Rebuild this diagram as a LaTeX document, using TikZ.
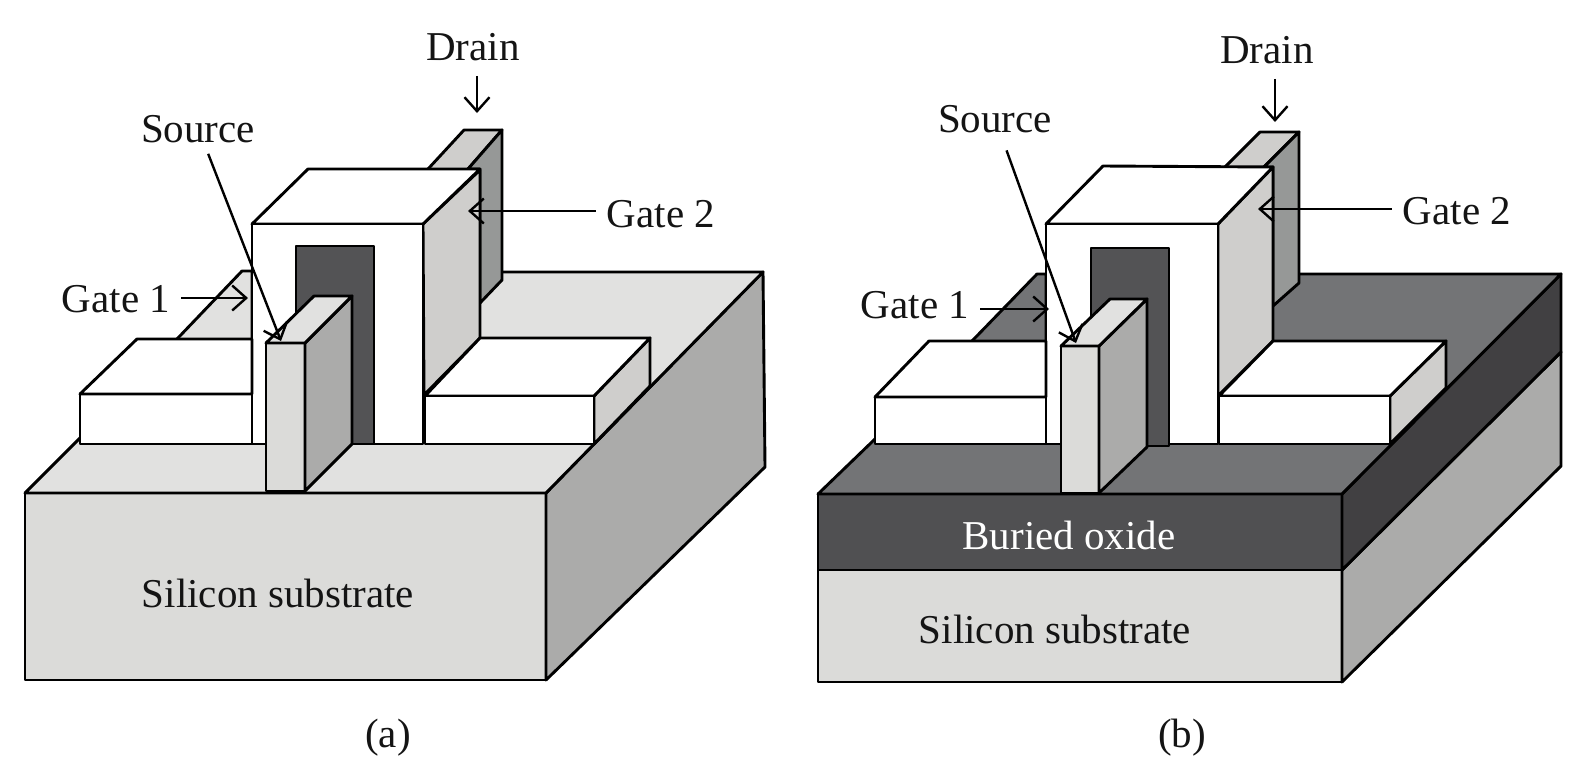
\documentclass[tikz,border=0pt]{standalone}
\usepackage{fontspec}
\setmainfont{Liberation Serif}
\usetikzlibrary{arrows.meta}
\definecolor{subfront}{HTML}{DBDBD9}
\definecolor{subside}{HTML}{ABABAA}
\definecolor{subtop}{HTML}{E1E1E0}
\definecolor{oxfront}{HTML}{505052}
\definecolor{oxside}{HTML}{414042}
\definecolor{oxtop}{HTML}{737476}
\definecolor{gateside}{HTML}{CFCECC}
\definecolor{drainside}{HTML}{969897}
\definecolor{channel}{HTML}{535355}
\tikzstyle{face} = [draw, line width=1.45pt, line join=round]
\tikzstyle{ptr} = [line width=1.2pt, -{Straight Barb[length=7pt,width=12.5pt]}]
\tikzstyle{txt} = [anchor=base, inner sep=5.5pt, text=black!92, font=\fontsize{20.5}{24}\selectfont]

\begin{document}
\begin{tikzpicture}[x=0.5pt, y=-0.5pt]
  \useasboundingbox (0,0) rectangle (1590,767);
  % Panel a: substrate
  \path [face, fill=subfront] (25,493) rectangle (546,680);
  \path [face, fill=subside] (546,493) -- (763,272) -- (765,467) -- (546,680) -- cycle;
  \fill [subtop] (25,493) -- (80,438) -- (80,400) -- (480,400) -- (480,272) -- (763,272) -- (546,493) -- cycle;
  \draw [face] (80,438) -- (25,493) -- (546,493) -- (763,272) -- (480,272);
  % Panel a: fin behind the gate
  \path [face, fill=subtop] (177,339) -- (242,271) -- (252,271) -- (252,339);
  \path [face, fill=gateside] (428,169) -- (464,130) -- (502,130) -- (468,169);
  \path [face, fill=drainside] (468,169) -- (502,130) -- (502,280) -- (480,303) -- (480,169) -- cycle;
  % Panel a: gate
  \path [face, fill=gateside] (423,224) -- (480,170) -- (480,338) -- (424,395) -- cycle;
  \path [face, fill=white] (252,224) -- (308,169) -- (480,169) -- (423,224) -- cycle;
  \path [face, fill=white] (252,224) rectangle (423,444);
  \path [face, fill=channel] (296,246) rectangle (374,444);
  % Panel a: pads
  \path [face, fill=white] (80,394) rectangle (252,444);
  \path [face, fill=white] (80,394) -- (137,339) -- (252,339) -- (252,394) -- cycle;
  \path [face, fill=gateside] (594,396) -- (650,338) -- (650,386) -- (594,444) -- cycle;
  \path [face, fill=white] (425,396) -- (480,338) -- (650,338) -- (594,396) -- cycle;
  \path [face, fill=white] (425,396) rectangle (594,444);
  % Panel a: source fin
  \path [face, fill=subfront] (266,343) rectangle (305,491);
  \path [face, fill=subside] (305,343) -- (352,296) -- (352,444) -- (305,491) -- cycle;
  \path [face, fill=subtop] (266,343) -- (314,296) -- (352,296) -- (305,343) -- cycle;

  % Panel b: substrate and oxide
  \path [face, fill=subfront] (818,570) rectangle (1342,682);
  \path [face, fill=subside] (1342,570) -- (1561,352) -- (1561,466) -- (1342,682) -- cycle;
  \path [face, fill=oxfront] (818,494) rectangle (1342,570);
  \path [face, fill=oxside] (1342,494) -- (1561,274) -- (1561,352) -- (1342,570) -- cycle;
  \fill [oxtop] (818,494) -- (875,439) -- (875,400) -- (1273,400) -- (1273,274) -- (1561,274) -- (1342,494) -- cycle;
  \draw [face] (875,439) -- (818,494) -- (1342,494) -- (1561,274) -- (1273,274);
  % Panel b: fin behind the gate
  \path [face, fill=oxtop] (972,341) -- (1037,274) -- (1046,274) -- (1046,341);
  \path [face, fill=gateside] (1225,167) -- (1260,132) -- (1299,132) -- (1264,167);
  \path [face, fill=drainside] (1264,167) -- (1299,132) -- (1299,283) -- (1273,306) -- (1273,167) -- cycle;
  % Panel b: gate
  \path [face, fill=gateside] (1218,224) -- (1273,167) -- (1273,341) -- (1218,396) -- cycle;
  \path [face, fill=white] (1046,224) -- (1103,166) -- (1273,167) -- (1218,224) -- cycle;
  \path [face, fill=white] (1046,224) rectangle (1218,444);
  \path [face, fill=channel] (1091,248) rectangle (1169,446);
  % Panel b: pads
  \path [face, fill=white] (875,397) rectangle (1046,444);
  \path [face, fill=white] (875,397) -- (929,341) -- (1046,341) -- (1046,397) -- cycle;
  \path [face, fill=gateside] (1390,396) -- (1446,341) -- (1446,388) -- (1390,444) -- cycle;
  \path [face, fill=white] (1219,396) -- (1273,341) -- (1446,341) -- (1390,396) -- cycle;
  \path [face, fill=white] (1219,396) rectangle (1390,444);
  % Panel b: source fin
  \path [face, fill=subfront] (1061,346) rectangle (1099,493);
  \path [face, fill=subside] (1099,346) -- (1147,299) -- (1147,447) -- (1099,493) -- cycle;
  \path [face, fill=subtop] (1061,346) -- (1110,299) -- (1147,299) -- (1099,346) -- cycle;

  % Place nodes
  \node [txt] (draina) at (473,60) {Drain};
  \node [txt] (sourcea) at (198,142) {Source};
  \node [txt] (gate1a) at (116,312) {Gate 1};
  \node [txt] (gate2a) at (661,227) {Gate 2};
  \node [txt] (subla) at (278,607) {Silicon substrate};
  \node [txt] (capa) at (388,747) {(a)};
  \node [txt] (drainb) at (1267,63) {Drain};
  \node [txt] (sourceb) at (995,132) {Source};
  \node [txt] (gate1b) at (915,318) {Gate 1};
  \node [txt] (gate2b) at (1457,224) {Gate 2};
  \node [txt, text=white] (oxlb) at (1069,549) {Buried oxide};
  \node [txt] (sublb) at (1055,643) {Silicon substrate};
  \node [txt] (capb) at (1182,747) {(b)};
  \coordinate (tipda) at (477,113);
  \coordinate (tipsa) at (281,341);
  \coordinate (tip1a) at (248,298);
  \coordinate (tip2a) at (468,211);
  \coordinate (tipdb) at (1275,122);
  \coordinate (tipsb) at (1076,343);
  \coordinate (tip1b) at (1049,309);
  \coordinate (tip2b) at (1258,209);
  % Pointers
  \draw [ptr, shorten <=2pt] (draina.south -| tipda) -- (tipda);
  \draw [ptr] (sourcea.-68) -- (tipsa);
  \draw [ptr] (gate1a.east |- tip1a) -- (tip1a);
  \draw [ptr] (gate2a.west |- tip2a) -- (tip2a);
  \draw [ptr, shorten <=2pt] (drainb.south -| tipdb) -- (tipdb);
  \draw [ptr, shorten <=3.5pt] (sourceb.-70) -- (tipsb);
  \draw [ptr] (gate1b.east |- tip1b) -- (tip1b);
  \draw [ptr] (gate2b.west |- tip2b) -- (tip2b);
\end{tikzpicture}
\end{document}
